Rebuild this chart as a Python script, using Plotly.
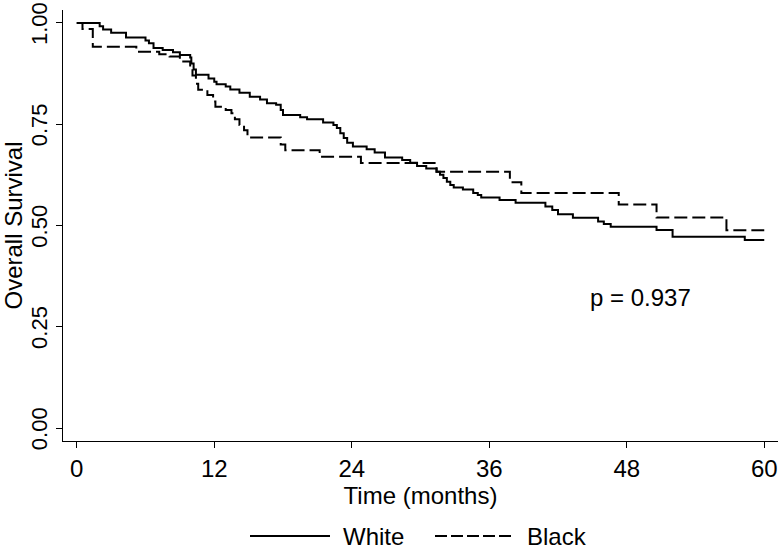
import plotly.graph_objects as go

# Kaplan-Meier step data (time in months, survival after step)
white_time = [0, 2.0, 2.3, 3.0, 4.3, 6.0, 6.3, 6.7, 7.5, 8.4, 9.0, 9.9, 10.0, 10.2, 10.4,
              11.5, 12.0, 12.2, 13.0, 13.4, 14.2, 15.1, 16.0, 16.6, 17.4, 17.8, 18.0,
              19.5, 20.1, 21.5, 22.4, 22.7, 23.0, 23.3, 23.6, 24.1, 25.3, 26.0, 26.9,
              28.4, 29.1, 29.7, 30.5, 31.4, 31.7, 32.0, 32.3, 32.6, 32.9, 33.7, 34.6,
              35.0, 35.3, 36.9, 38.3, 40.9, 41.5, 42.0, 43.3, 45.5, 46.0, 46.6, 50.6,
              52.0, 58.3, 60.0]
white_surv = [1.0, 0.992, 0.984, 0.976, 0.964, 0.957, 0.950, 0.938, 0.933, 0.928, 0.921,
              0.915, 0.900, 0.885, 0.872, 0.863, 0.855, 0.849, 0.843, 0.836, 0.828,
              0.818, 0.811, 0.802, 0.798, 0.785, 0.773, 0.767, 0.762, 0.754, 0.748,
              0.741, 0.728, 0.716, 0.704, 0.695, 0.688, 0.680, 0.668, 0.662, 0.655,
              0.647, 0.641, 0.633, 0.625, 0.617, 0.608, 0.600, 0.594, 0.589, 0.580,
              0.575, 0.569, 0.563, 0.556, 0.547, 0.538, 0.528, 0.519, 0.510, 0.504,
              0.497, 0.489, 0.472, 0.464, 0.464]

black_time = [0, 0.5, 1.4, 5.2, 7.2, 8.1, 9.0, 9.9, 10.1, 10.4, 10.6, 11.4, 11.9, 12.1,
              13.0, 13.5, 13.8, 14.2, 14.6, 14.9, 17.8, 18.2, 21.2, 24.8, 31.4, 37.8,
              38.8, 47.3, 50.6, 56.7, 60.0]
black_surv = [1.0, 0.985, 0.941, 0.929, 0.923, 0.917, 0.905, 0.890, 0.870, 0.850, 0.835,
              0.822, 0.806, 0.793, 0.785, 0.777, 0.762, 0.748, 0.735, 0.717, 0.700,
              0.686, 0.670, 0.654, 0.633, 0.607, 0.580, 0.552, 0.520, 0.488, 0.488]

x_ticks = [0, 12, 24, 36, 48, 60]
y_ticks = [0.0, 0.25, 0.5, 0.75, 1.0]
y_tick_labels = ["0.00", "0.25", "0.50", "0.75", "1.00"]
series_names = ["White", "Black"]
p_text = "p = 0.937"

FONT = "Liberation Sans, Arial, sans-serif"

fig = go.Figure()
fig.add_trace(go.Scatter(x=white_time, y=white_surv, mode="lines", name=series_names[0],
                         line=dict(shape="hv", color="black", width=2), showlegend=False))
fig.add_trace(go.Scatter(x=black_time, y=black_surv, mode="lines", name=series_names[1],
                         line=dict(shape="hv", color="black", width=2, dash="13px,5px"),
                         showlegend=False))

fig.add_annotation(x=44.6, y=0.323, xref="x", yref="y", text=p_text, showarrow=False,
                   xanchor="left", yanchor="middle", font=dict(size=24, color="black", family=FONT))

# manual legend (long line samples as in the reference)
LEG_Y = (441 - 536) / 431
fig.add_shape(type="line", xref="paper", yref="paper", x0=(250-63)/715, x1=(330-63)/715,
              y0=LEG_Y, y1=LEG_Y, line=dict(color="black", width=2))
fig.add_shape(type="line", xref="paper", yref="paper", x0=(435-63)/715, x1=(512-63)/715,
              y0=LEG_Y, y1=LEG_Y, line=dict(color="black", width=2, dash="12px,4px"))
fig.add_annotation(x=(341-63)/715, y=LEG_Y, xref="paper", yref="paper",
                   text=series_names[0], showarrow=False, xanchor="left", yanchor="middle",
                   font=dict(size=24, color="black", family=FONT))
fig.add_annotation(x=(525-63)/715, y=LEG_Y, xref="paper", yref="paper",
                   text=series_names[1], showarrow=False, xanchor="left", yanchor="middle",
                   font=dict(size=24, color="black", family=FONT))

fig.update_layout(
    width=778, height=549,
    margin=dict(l=63, r=0, t=10, b=108, autoexpand=False),
    paper_bgcolor="white", plot_bgcolor="white",
    font=dict(family=FONT, size=24, color="black"),
    xaxis=dict(range=[-1.2, 61.2], tickvals=x_ticks, ticks="outside", ticklen=6,
               tickwidth=1.3, tickcolor="black", showline=True, linecolor="black",
               linewidth=1.3, showgrid=False, zeroline=False, ticklabeloverflow="allow",
               automargin=False, tickfont=dict(size=24, family=FONT),
               title=dict(text="Time (months)", standoff=0, font=dict(size=24, family=FONT))),
    yaxis=dict(range=[-0.032, 1.032], tickvals=y_ticks, ticktext=y_tick_labels,
               ticks="outside", ticklen=6, tickwidth=1.3, tickcolor="black",
               showline=True, linecolor="black", linewidth=1.3, showgrid=False,
               zeroline=False, tickangle=-90, tickfont=dict(size=22, family=FONT),
               ticklabeloverflow="allow", automargin=False, ticklabelshift=4,
               title=dict(text="Overall Survival", standoff=2, font=dict(size=24, family=FONT))),
)

fig.write_html("out.html", config={"displayModeBar": False},
               post_script="document.body.style.margin='0px';")
